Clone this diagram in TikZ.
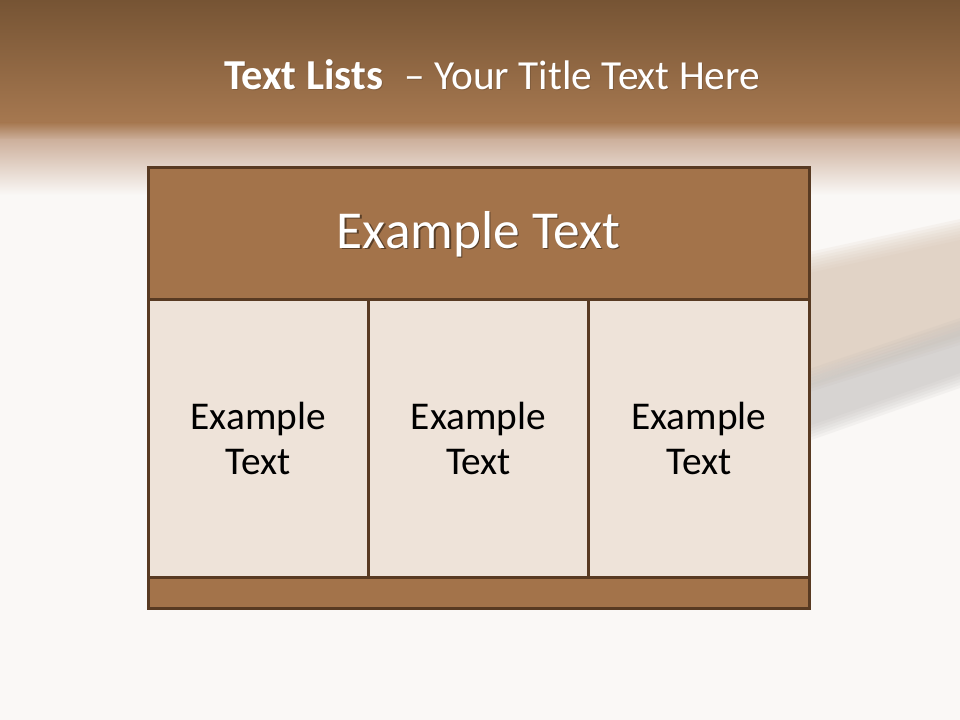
\documentclass[tikz,border=0pt]{standalone}
\usepackage{fontspec}
\setmainfont{Carlito}
\usepackage{tikz}
\usetikzlibrary{positioning}
\definecolor{slidebg}{HTML}{FAF8F6}
\definecolor{bartop}{HTML}{765434}
\definecolor{barlow}{HTML}{A67850}
\definecolor{barfade}{HTML}{CDB09C}
\definecolor{headfill}{HTML}{A3734A}
\definecolor{cellfill}{HTML}{EEE3D9}
\definecolor{edge}{HTML}{583A22}
\definecolor{bandtan}{HTML}{D8C2B1}
\definecolor{bandgrey}{HTML}{B4B1AF}

\begin{document}
\begin{tikzpicture}[
    x=0.75pt, y=-0.75pt,
    node distance=0pt,
    panel/.style={draw=edge, line width=2.25pt, outer sep=0pt, inner sep=0pt},
    headbox/.style={panel, fill=headfill, minimum width=495.75pt, minimum height=99pt},
    cellbox/.style={panel, fill=cellfill, minimum width=165.25pt, minimum height=207.75pt, text width=110pt, align=center, font=\fontsize{29.5}{34}\selectfont},
    footbox/.style={panel, fill=headfill, minimum width=495.75pt, minimum height=23.25pt},
    headtext/.style={text=white, inner sep=0pt, font=\fontsize{40}{48}\selectfont},
    titletext/.style={text=white, inner sep=0pt, font=\fontsize{31}{37}\selectfont}
]
\useasboundingbox (0,0) rectangle (960,720);
% slide background
\fill[slidebg] (0,0) rectangle (960,720);
\shade[top color=bartop, bottom color=barlow] (0,0) rectangle (960,123);
\shade[top color=barlow, bottom color=barfade] (0,122.5) rectangle (960,140);
\shade[top color=barfade, bottom color=slidebg] (0,139.5) rectangle (960,195);

% blurred band on the right
\begin{scope}
\clip (809,150) rectangle (960,480);
\foreach \i in {0,...,7}
  \fill[bandtan, opacity=.12] (800,{254+3*\i}) -- (960,{219+3*\i}) -- (960,{345-3*\i}) -- (800,{395-3*\i}) -- cycle;
\foreach \i in {0,...,5}
  \fill[bandgrey, opacity=.10] (800,{372+3*\i}) -- (960,{318+3*\i}) -- (960,{388-3*\i}) -- (800,{444-3*\i}) -- cycle;
\end{scope}

% title
\node[titletext, text=black, opacity=.15] (titleshade) at (493,76) {{\fontsize{32}{37}\selectfont\textbf{Text Lists}}\hspace{16pt}– Your Title Text Here};
\node[titletext] (title) at (492,75) {{\fontsize{32}{37}\selectfont\textbf{Text Lists}}\hspace{16pt}– Your Title Text Here};

% table
\node[headbox] (header) at (478.5,234) {};
\node[headtext, text=black, opacity=.45] (headshade) at ([shift={(1.5,1.5)}]header.center) {Example Text};
\node[headtext] (headlabel) at (header.center) {Example Text};

\node[cellbox, below=of header] (midcell) {Example Text};
\node[cellbox, left=of midcell] (leftcell) {Example Text};
\node[cellbox, right=of midcell] (rightcell) {Example Text};
\node[footbox, below=of midcell] (footer) {};
\end{tikzpicture}
\end{document}
